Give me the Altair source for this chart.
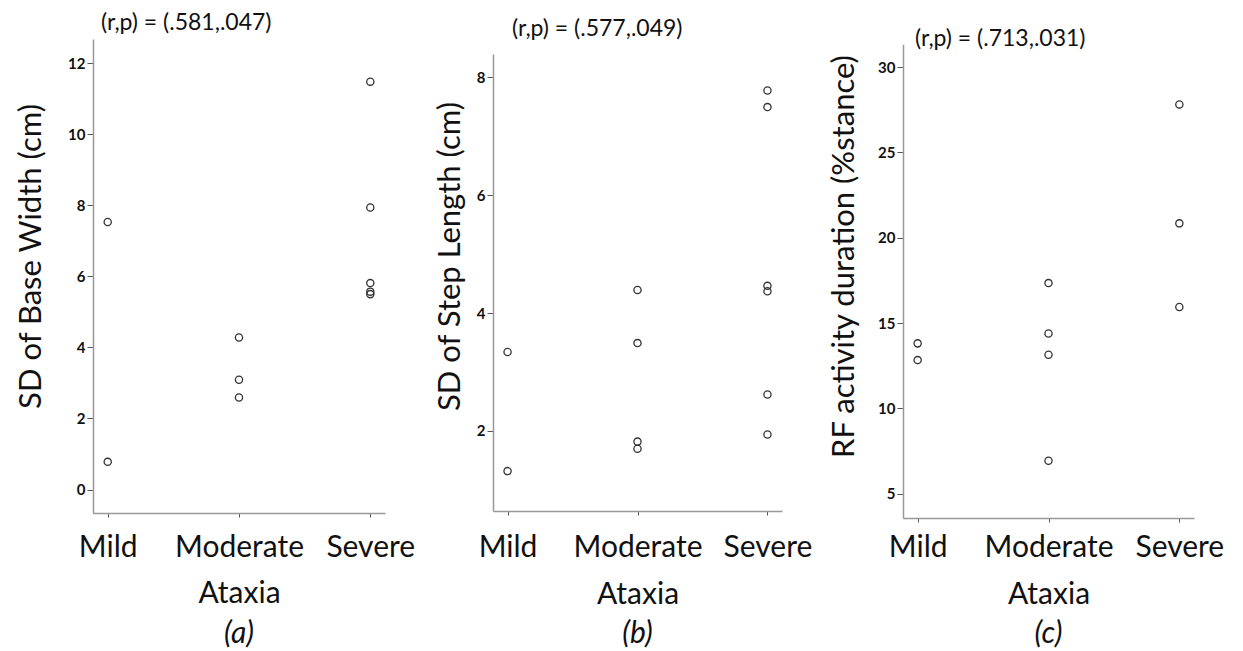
import altair as alt
import pandas as pd

categories = ["Mild", "Moderate", "Severe"]

a_group = ["Mild", "Mild", "Moderate", "Moderate", "Moderate",
           "Severe", "Severe", "Severe", "Severe", "Severe"]
a_values = [7.53, 0.78, 4.28, 3.09, 2.59, 11.48, 7.94, 5.81, 5.57, 5.50]

b_group = ["Mild", "Mild", "Moderate", "Moderate", "Moderate", "Moderate",
           "Severe", "Severe", "Severe", "Severe", "Severe", "Severe"]
b_values = [3.34, 1.32, 4.39, 3.49, 1.82, 1.70, 7.77, 7.49, 4.46, 4.37, 2.62, 1.94]

c_group = ["Mild", "Mild", "Moderate", "Moderate", "Moderate", "Moderate",
           "Severe", "Severe", "Severe"]
c_values = [13.81, 12.83, 17.34, 14.39, 13.14, 6.93, 27.81, 20.84, 15.94]

a_ticks = [0, 2, 4, 6, 8, 10, 12]
b_ticks = [2, 4, 6, 8]
c_ticks = [5, 10, 15, 20, 25, 30]

y_titles = ["SD of Base Width (cm)", "SD of Step Length (cm)", "RF activity duration  (%stance)"]
rp_texts = ["(r,p) = (.581,.047)", "(r,p) = (.577,.049)", "(r,p) = (.713,.031)"]
captions = ["(a)", "(b)", "(c)"]
x_title = "Ataxia"

H = 479
FONT = "Lato"


def panel(group, values, domain, ticks, yrange, ytitle, width, xr, offset,
          label_pad, title_y, ytitle_x, rp, rp_x, rp_y, cap):
    df = pd.DataFrame({"group": group, "value": values})
    pts = alt.Chart(df).mark_point(
        shape="circle", filled=False, size=52, strokeWidth=1.3, color="#333333", opacity=1
    ).encode(
        x=alt.X("group:N", sort=categories,
                scale=alt.Scale(type="point", domain=categories, padding=0.112, range=[0, xr]),
                axis=alt.Axis(title=x_title, titleFont=FONT, titleFontSize=30,
                              titleFontWeight="normal", titleColor="#111111",
                              titleBaseline="alphabetic", titleY=title_y,
                              labelFont=FONT, labelFontSize=30, labelColor="#111111",
                              labelAngle=0, labelBaseline="alphabetic", labelPadding=label_pad,
                              tickSize=4, tickColor="#555555", domainColor="#999999",
                              domainWidth=1.5, offset=offset, grid=False)),
        y=alt.Y("value:Q",
                scale=alt.Scale(domain=domain, range=yrange, nice=False, zero=False),
                axis=alt.Axis(values=ticks, format="d", title=ytitle, titleFont=FONT,
                              titleFontSize=31, titleFontWeight="normal", titleColor="#111111",
                              titleAngle=270, titleAlign="center", titleBaseline="middle",
                              titleX=ytitle_x, titleY=217,
                              labelFont=FONT, labelFontSize=15, labelFontWeight="bold",
                              labelColor="#111111", labelPadding=2, tickSize=6,
                              tickColor="#555555", domainColor="#999999", domainWidth=1.5,
                              grid=False)),
    )
    rp_chart = alt.Chart(pd.DataFrame({"t": [rp]})).mark_text(
        align="left", baseline="middle", font=FONT, fontSize=23, color="#111111"
    ).encode(x=alt.value(rp_x), y=alt.value(rp_y), text="t:N")
    cap_chart = alt.Chart(pd.DataFrame({"t": [cap]})).mark_text(
        align="center", baseline="middle", font=FONT, fontSize=30, fontStyle="italic",
        color="#111111"
    ).encode(x=alt.value(xr / 2), y=alt.value(595), text="t:N")
    return alt.layer(pts, rp_chart, cap_chart).properties(width=width, height=H)


pa = panel(a_group, a_values, [-0.66, 12.68], a_ticks, [474, 0], y_titles[0],
           292, 292, -5, 39, 89, -62, rp_texts[0], 8, -16, captions[0])
pb = panel(b_group, b_values, [0.644, 8.39], b_ticks, [472, 15], y_titles[1],
           301.6, 289, -7, 41, 92, -43, rp_texts[1], 19, -10, captions[1])
pc = panel(c_group, c_values, [3.58, 31.33], c_ticks, [479, 5.3], y_titles[2],
           291, 291, 0, 34, 85, -59, rp_texts[2], 12, 0, captions[2])

chart = alt.hconcat(pa, pb, pc, spacing=108, bounds="flush").properties(
    padding={"left": 6, "top": 4, "right": 5, "bottom": 5}
).configure_view(stroke=None)

chart.save("out.html", embed_options={"renderer": "svg", "actions": False})
